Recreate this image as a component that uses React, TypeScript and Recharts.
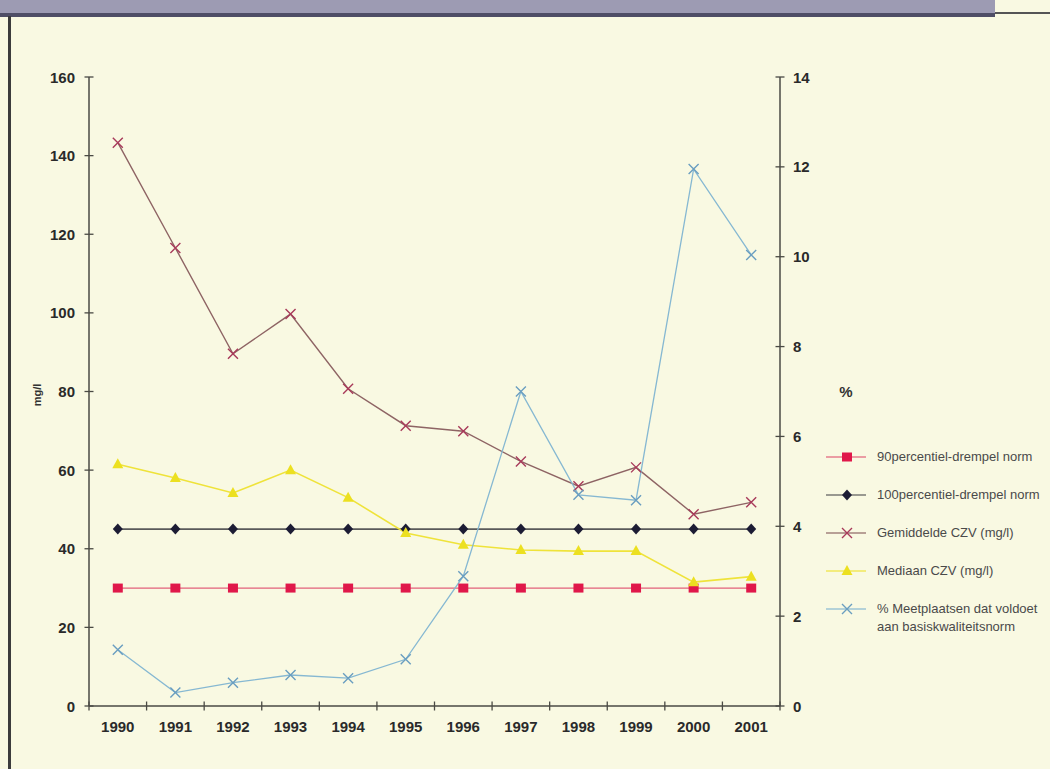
import React from 'react';
import { ComposedChart, Line, XAxis, YAxis } from 'recharts';

const years = ['1990', '1991', '1992', '1993', '1994', '1995', '1996', '1997', '1998', '1999', '2000', '2001'];
const p90Norm = [30, 30, 30, 30, 30, 30, 30, 30, 30, 30, 30, 30];
const p100Norm = [45, 45, 45, 45, 45, 45, 45, 45, 45, 45, 45, 45];
const gemiddeldeCZV = [143.3, 116.5, 89.6, 99.7, 80.7, 71.3, 69.9, 62.2, 55.9, 60.7, 48.8, 51.8];
const mediaanCZV = [61.5, 58, 54.2, 60, 53, 44, 41, 39.7, 39.4, 39.4, 31.5, 32.9];
const pctVoldoet = [1.25, 0.3, 0.52, 0.69, 0.62, 1.04, 2.89, 7.0, 4.7, 4.58, 11.95, 10.04];
const leftTicks = [0, 20, 40, 60, 80, 100, 120, 140, 160];
const rightTicks = [0, 2, 4, 6, 8, 10, 12, 14];

const seriesNames: Record<string, string[]> = {
  p90: ['90percentiel-drempel norm'],
  p100: ['100percentiel-drempel norm'],
  gem: ['Gemiddelde CZV (mg/l)'],
  med: ['Mediaan CZV (mg/l)'],
  pct: ['% Meetplaatsen dat voldoet', 'aan basiskwaliteitsnorm'],
};

const data = years.map((year, i) => ({
  year,
  p90: p90Norm[i],
  p100: p100Norm[i],
  gem: gemiddeldeCZV[i],
  med: mediaanCZV[i],
  pct: pctVoldoet[i],
}));

const AXIS = '#4a4a44';
const TXT = '#2a2a2a';
const FONT = 'Liberation Sans, Arial, sans-serif';

const COLORS: Record<string, { line: string; mark: string }> = {
  p90: { line: '#e2607a', mark: '#e0184a' },
  p100: { line: '#5a5a5a', mark: '#1c1c34' },
  gem: { line: '#8e6464', mark: '#a83a5a' },
  med: { line: '#efe33a', mark: '#ece020' },
  pct: { line: '#86b8d2', mark: '#6a9ec0' },
};

type Shape = 'square' | 'diamond' | 'x' | 'triangle';
const SHAPES: Record<string, Shape> = { p90: 'square', p100: 'diamond', gem: 'x', med: 'triangle', pct: 'x' };

function marker(shape: Shape, cx: number, cy: number, color: string, key?: any) {
  if (shape === 'square') {
    return <rect key={key} x={cx - 5} y={cy - 4.5} width={10} height={9} fill={color} />;
  }
  if (shape === 'diamond') {
    return <path key={key} d={`M${cx},${cy - 5.5}L${cx + 5},${cy}L${cx},${cy + 5.5}L${cx - 5},${cy}Z`} fill={color} />;
  }
  if (shape === 'triangle') {
    return <path key={key} d={`M${cx},${cy - 6}L${cx + 5.5},${cy + 4}L${cx - 5.5},${cy + 4}Z`} fill={color} />;
  }
  return (
    <g key={key} stroke={color} strokeWidth={1.4} fill="none">
      <path d={`M${cx - 5},${cy - 5}L${cx + 5},${cy + 5}M${cx + 5},${cy - 5}L${cx - 5},${cy + 5}`} />
    </g>
  );
}

const makeDot = (k: string) => (p: any) => {
  if (p.cx == null || p.cy == null) return <g key={p.key} />;
  return marker(SHAPES[k], p.cx, p.cy, COLORS[k].mark, p.key);
};

const tickText = { fontFamily: FONT, fontSize: 15, fontWeight: 'bold' as const, fill: TXT };

function LeftTick(props: any) {
  const { x, y, payload } = props;
  const ax = x + 14;
  return (
    <g>
      <line x1={ax - 4.5} x2={ax + 4.5} y1={y} y2={y} stroke={AXIS} strokeWidth={1.3} />
      <text x={x} y={y} dy={5.5} textAnchor="end" {...tickText}>{payload.value}</text>
    </g>
  );
}

function RightTick(props: any) {
  const { x, y, payload } = props;
  const ax = x - 13;
  return (
    <g>
      <line x1={ax - 4.5} x2={ax + 4.5} y1={y} y2={y} stroke={AXIS} strokeWidth={1.3} />
      <text x={x} y={y} dy={5.5} textAnchor="start" {...tickText}>{payload.value}</text>
    </g>
  );
}

function BottomTick(props: any) {
  const { x, y, payload, index, visibleTicksCount, width } = props;
  const half =
    payload && payload.offset
      ? payload.offset
      : width && visibleTicksCount
      ? width / visibleTicksCount / 2
      : 28.8;
  const ay = y - 12;
  return (
    <g>
      <line x1={x - half} x2={x - half} y1={ay - 4.5} y2={ay + 4.5} stroke={AXIS} strokeWidth={1.3} />
      {index === visibleTicksCount - 1 && (
        <line x1={x + half} x2={x + half} y1={ay - 4.5} y2={ay + 4.5} stroke={AXIS} strokeWidth={1.3} />
      )}
      <text x={x} y={y} dy={13.5} textAnchor="middle" {...tickText}>{payload.value}</text>
    </g>
  );
}

const legendOrder = ['p90', 'p100', 'gem', 'med', 'pct'];

function ChartLegend() {
  return (
    <div
      style={{
        position: 'absolute',
        left: 826,
        top: 438,
        fontFamily: FONT,
        fontSize: 13,
        color: '#4a4a4a',
      }}
    >
      {legendOrder.map((k) => {
        const lines = seriesNames[k];
        const c = COLORS[k];
        return (
          <div key={k} style={{ display: 'flex', alignItems: 'flex-start', height: 38, paddingTop: 10, boxSizing: 'border-box' }}>
            <svg width={44} height={18} style={{ flex: 'none' }}>
              <line x1={0} x2={40} y1={9} y2={9} stroke={c.line} strokeWidth={1.4} opacity={0.8} />
              {marker(SHAPES[k], 21, 9, c.mark)}
            </svg>
            <div style={{ marginLeft: 7, lineHeight: '18px', whiteSpace: 'nowrap' }}>
              {lines.map((l, i) => (
                <div key={i}>{l}</div>
              ))}
            </div>
          </div>
        );
      })}
    </div>
  );
}

export default function App() {
  return (
    <div
      style={{
        position: 'absolute',
        left: 0,
        top: 0,
        width: 1050,
        height: 769,
        overflow: 'hidden',
        background: '#f9f9e2',
      }}
    >
      <div style={{ position: 'absolute', left: 0, top: 0, width: 995, height: 14, background: '#9d9bb3' }} />
      <div style={{ position: 'absolute', left: 0, top: 13, width: 995, height: 4, background: '#4f4e66' }} />
      <div style={{ position: 'absolute', left: 995, top: 12, width: 55, height: 2, background: '#555' }} />
      <div style={{ position: 'absolute', left: 8, top: 16, width: 3, height: 753, background: '#3c3c3c' }} />
      <div style={{ position: 'absolute', left: 0, top: 0 }}>
        <ComposedChart width={1050} height={769} data={data} margin={{ top: 77, right: 210, bottom: 33, left: 0 }}>
          <XAxis
            dataKey="year"
            xAxisId="x"
            type="category"
            scale="band"
            height={30}
            tickLine={false}
            tickSize={4}
            tickMargin={8}
            interval={0}
            axisLine={{ stroke: AXIS, strokeWidth: 1.5 }}
            tick={<BottomTick />}
          />
          <YAxis
            yAxisId="left"
            width={89}
            domain={[0, 160]}
            ticks={leftTicks}
            interval={0}
            tickLine={false}
            tickSize={4}
            tickMargin={10}
            axisLine={{ stroke: AXIS, strokeWidth: 1.5 }}
            tick={<LeftTick />}
            label={{
              content: () => (
                <text
                  x={41}
                  y={395}
                  transform="rotate(-90 41 395)"
                  textAnchor="middle"
                  fontFamily={FONT}
                  fontSize={11}
                  fontWeight="bold"
                  fill="#333"
                >
                  mg/l
                </text>
              ),
            }}
          />
          <YAxis
            yAxisId="right"
            orientation="right"
            width={60}
            domain={[0, 14]}
            ticks={rightTicks}
            interval={0}
            tickLine={false}
            tickSize={4}
            tickMargin={9}
            axisLine={{ stroke: AXIS, strokeWidth: 1.5 }}
            tick={<RightTick />}
            label={{
              content: () => (
                <text x={846} y={397} textAnchor="middle" fontFamily={FONT} fontSize={15} fontWeight="bold" fill="#333">
                  %
                </text>
              ),
            }}
          />
          <Line
            xAxisId="x"
            yAxisId="left"
            dataKey="p90"
            name={seriesNames.p90[0]}
            stroke={COLORS.p90.line}
            strokeWidth={1.3}
            dot={makeDot('p90')}
            activeDot={false}
            isAnimationActive={false}
          />
          <Line
            xAxisId="x"
            yAxisId="left"
            dataKey="p100"
            name={seriesNames.p100[0]}
            stroke={COLORS.p100.line}
            strokeWidth={1.6}
            dot={makeDot('p100')}
            activeDot={false}
            isAnimationActive={false}
          />
          <Line
            xAxisId="x"
            yAxisId="left"
            dataKey="gem"
            name={seriesNames.gem[0]}
            stroke={COLORS.gem.line}
            strokeWidth={1.4}
            dot={makeDot('gem')}
            activeDot={false}
            isAnimationActive={false}
          />
          <Line
            xAxisId="x"
            yAxisId="left"
            dataKey="med"
            name={seriesNames.med[0]}
            stroke={COLORS.med.line}
            strokeWidth={1.6}
            dot={makeDot('med')}
            activeDot={false}
            isAnimationActive={false}
          />
          <Line
            xAxisId="x"
            yAxisId="right"
            dataKey="pct"
            name={seriesNames.pct.join(' ')}
            stroke={COLORS.pct.line}
            strokeWidth={1.3}
            dot={makeDot('pct')}
            activeDot={false}
            isAnimationActive={false}
          />
        </ComposedChart>
      </div>
      <ChartLegend />
    </div>
  );
}
